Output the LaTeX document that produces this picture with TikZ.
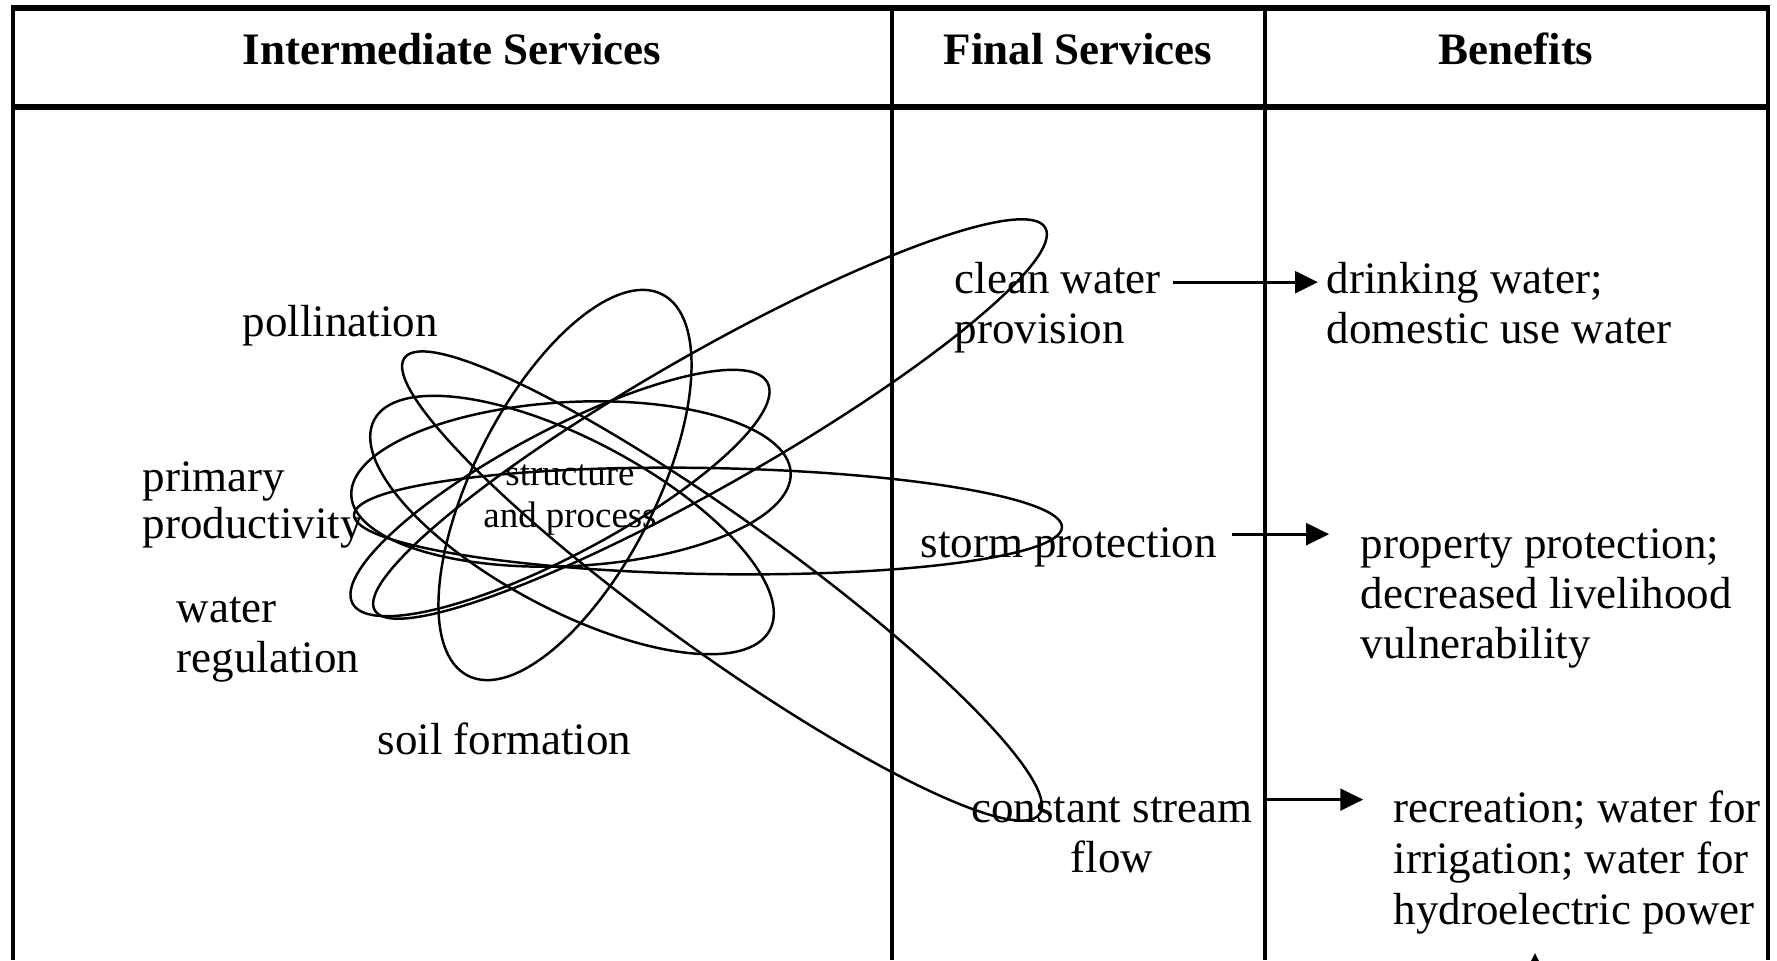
\documentclass[tikz,border=0pt]{standalone}
\usepackage{fontspec}
\setmainfont{Liberation Serif}
\usetikzlibrary{arrows.meta}
\begin{document}
\begin{tikzpicture}[x=0.1mm,y=-0.1mm,
  txt/.style={inner sep=0pt, font=\fontsize{12.8}{14.2}\selectfont, align=left, anchor=base west},
  hdr/.style={inner sep=0pt, font=\fontsize{12.8}{14.2}\selectfont\bfseries, anchor=base},
  ell/.style={line width=0.7pt},
  rulev/.style={line width=1.1pt},
  ruleh/.style={line width=1.6pt},
  arr/.style={line width=0.8pt, -{Triangle[length=6.5pt,width=6.2pt]}}]
\useasboundingbox (0,0) rectangle (1777,960);
\clip (0,0) rectangle (1777,960);
% table
\draw[ruleh] (11,8) -- (1770,8);
\draw[ruleh] (11,107) -- (1770,107);
\draw[rulev] (13,8) -- (13,960);
\draw[rulev] (892,8) -- (892,960);
\draw[rulev] (1265,8) -- (1265,960);
\draw[rulev] (1768,8) -- (1768,960);
% headers
\node[hdr] (h1) at (452,64) {Intermediate Services};
\node[hdr] (h2) at (1078,64) {Final Services};
\node[hdr] (h3) at (1516,64) {Benefits};
% ellipses
\draw[ell, rotate around={63:(565,485)}] (565,485) ellipse [x radius=214, y radius=91];
\draw[ell, rotate around={28:(560,493)}] (560,493) ellipse [x radius=235, y radius=62];
\draw[ell, rotate around={-28:(572,525)}] (572,525) ellipse [x radius=224, y radius=85];
\draw[ell, rotate around={3:(571,484)}] (571,484) ellipse [x radius=220, y radius=82];
\draw[ell, rotate around={29.7:(710,419)}] (710,419) ellipse [x radius=386, y radius=66];
\draw[ell, rotate around={-1:(708,521)}] (708,521) ellipse [x radius=354, y radius=53];
\draw[ell, rotate around={-35.7:(722,586)}] (722,586) ellipse [x radius=391, y radius=67];
% intermediate services texts
\node[txt] (poll) at (242,336) {pollination};
\node[txt, font=\fontsize{12.8}{13.2}\selectfont] (prim) at (142,538) {primary\\productivity};
\node[txt] (wreg) at (176,672) {water\\regulation};
\node[txt] (soil) at (377,754) {soil formation};
\node[inner sep=0pt, align=center, anchor=base, font=\fontsize{10.5}{11.8}\selectfont] (sp) at (570,527) {structure\\and process};
% final services
\node[txt] (cw) at (954,343) {clean water\\provision};
\node[txt] (st) at (920,557) {storm protection};
\node[txt, anchor=base, align=center] (cs) at (1112,872) {constant stream\\flow};
% benefits
\node[txt] (dw) at (1326,343) {drinking water;\\domestic use water};
\node[txt] (pp) at (1360,658) {property protection;\\decreased livelihood\\vulnerability};
\node[txt, font=\fontsize{12.8}{14.4}\selectfont] (rec) at (1393,924) {recreation; water for\\irrigation; water for\\hydroelectric power};
% arrows
\coordinate (a1) at ([yshift=17.3pt]cw.base east);
\draw[arr, shorten <=3.4pt, shorten >=2.3pt] (a1) -- (a1 -| dw.west);
\coordinate (a2) at ([yshift=6.5pt]st.base east);
\draw[arr, shorten <=4pt, shorten >=8.8pt] (a2) -- (a2 -| pp.west);
\coordinate (a3) at ([yshift=20.6pt]cs.base east);
\draw[arr, shorten <=3pt, shorten >=8.5pt] (a3) -- (a3 -| rec.west);
\coordinate (b0) at (1535,1010);
\coordinate (b1) at (1535,953);
\draw[arr] (b0) -- (b1);
\end{tikzpicture}
\end{document}
